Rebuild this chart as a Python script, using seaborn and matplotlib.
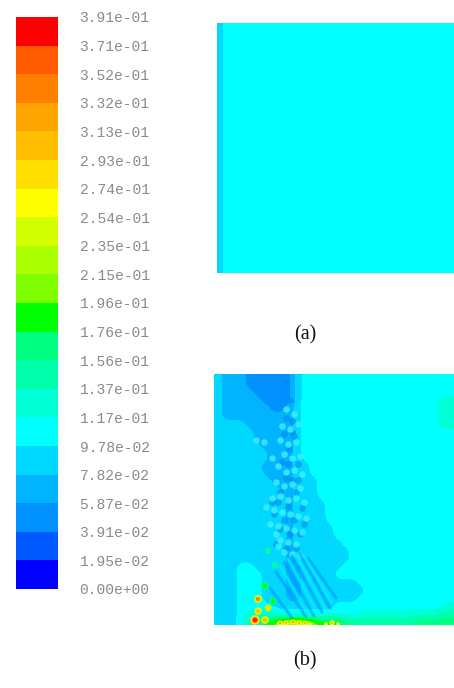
import numpy as np
import pandas as pd
import matplotlib
matplotlib.use("Agg")
import matplotlib.pyplot as plt
from matplotlib.colors import ListedColormap, BoundaryNorm
import seaborn as sns

W, H = 454, 688
tick_labels = ["3.91e-01","3.71e-01","3.52e-01","3.32e-01","3.13e-01","2.93e-01","2.74e-01",
               "2.54e-01","2.35e-01","2.15e-01","1.96e-01","1.76e-01","1.56e-01","1.37e-01",
               "1.17e-01","9.78e-02","7.82e-02","5.87e-02","3.91e-02","1.95e-02","0.00e+00"]
band_colors = ["#0000ff","#0058ff","#0090ff","#00b4ff","#00d8ff","#00ffff","#00ffd4","#00ffaa",
               "#00ff80","#00ff00","#7fff00","#aaff00","#d4ff00","#ffff00","#ffdf00","#ffbf00",
               "#ffa500","#ff8000","#ff5a00","#ff0000"]
# panel (a): band index per vertical strip
panel_a_strips = [4] + [5] * 39
# panel (b): band index (base 20 digit), 30 columns x 32 rows
panel_b_rows = [
 "433322222245555555555555555555",
 "433322222245555555555555555555",
 "433332222245555555555555555555",
 "433333222245555555555555555566",
 "433333322345555555555555555566",
 "433333333345555555555555555566",
 "444433333345555555555555555566",
 "444443333345555555555555555555",
 "444443333345555555555555555555",
 "444444333345555555555555555555",
 "444444433345555555555555555555",
 "444444333344555555555555555555",
 "444444333344555555555555555555",
 "444444433344455555555555555555",
 "444444443344455555555555555555",
 "444444444344455555555555555555",
 "444444444344445555555555555555",
 "444444444344445555555555555555",
 "444444444344445555555555555555",
 "444444444344444555555555555555",
 "444444444344444555555555555555",
 "444444444344444455555555555555",
 "444444444344444445555555555555",
 "444444444344444445555555555555",
 "444554444334444455555555555555",
 "444555444334444555555555555555",
 "444555444334444444555555555555",
 "444555444334444444455555555555",
 "444555444334444444555555555555",
 "444555544444444555555555555556",
 "444566665555555555666666666677",
 "44457799bbbba99987777777788888",
]
# suspended-particle spots in panel (b): x, y in picture pixels of the panel
light_x = [72,80,68,76,84,66,74,82,70,78,86,64,72,80,88,62,70,78,86,66,74,82,90,60,68,76,84,92,64,72,80,88,66,74,82,70,78,86,58,42,50,56,62,58,64,52]
light_y = [35,40,52,55,50,66,70,68,80,84,82,92,98,96,100,108,112,110,114,122,126,124,128,136,138,140,142,144,152,154,156,158,166,168,170,178,180,182,84,66,68,150,160,124,172,133]
dark_x = [73,76,72,78,70,80,75,68,84,72,78,66,82,74,88,70,80,64,76,86,72,82,78,90,74,84,60,66,62,58]
dark_y = [8,26,44,47,60,62,75,88,90,104,106,118,118,132,134,146,146,128,160,160,174,174,58,150,90,106,140,155,170,128]
stripe_x0 = [56,62,70,78,86,94]
stripe_y0 = [214,198,188,182,180,184]
stripe_x1 = [78,92,100,108,116,122]
stripe_y1 = [244,243,242,238,234,224]
gap_x0 = [66,74,82,90]
gap_y0 = [192,185,181,182]
gap_x1 = [96,104,112,118]
gap_y1 = [243,240,236,229]
hot_x = [41,51,44,44,54,59,51,54,61,66,72,79,85,91,96,112,118,124]
hot_y = [246,246,237,225,234,227,212,177,191,249,249,248,249,249,250,250,249,250]
hot_outer = ["#ffdf00","#d4ff00","#d4ff00","#d4ff00","#aaff00","#00ff80","#00ff80","#00ffaa","#00ffaa",
             "#ffff00","#ffff00","#ffff00","#ffff00","#ffff00","#aaff00","#aaff00","#ffff00","#aaff00"]
hot_inner = ["#ff2000","#ffbf00","#ffbf00","#ff8000","#ffdf00","#00ff00","#00ff00","#00ff80","#00ff80",
             "#ffa500","#ffbf00","#ffa500","#ffbf00","#ffbf00","#ffff00","#ffff00","#ffbf00","#ffff00"]
hot_size = [48,32,28,32,26,26,30,18,18,12,12,14,12,12,9,9,14,9]

STEP = 0.391 / 20
EDGES = [STEP * i for i in range(21)]
cmap = ListedColormap(band_colors)
norm = BoundaryNorm(EDGES, cmap.N)

def axpx(x0, y0, x1, y1):
    return fig.add_axes([x0 / W, 1 - y1 / H, (x1 - x0) / W, (y1 - y0) / H])

def soften(a, k=5, up=4, passes=2):
    a = np.kron(a, np.ones((up, up)))
    kern = np.ones(k) / k
    for _ in range(passes):
        a = np.apply_along_axis(lambda v: np.convolve(np.pad(v, k // 2, mode="edge"), kern, "valid"), 0, a)
        a = np.apply_along_axis(lambda v: np.convolve(np.pad(v, k // 2, mode="edge"), kern, "valid"), 1, a)
    return a

sns.set_theme(style="white")
fig = plt.figure(figsize=(W / 100, H / 100), dpi=100, facecolor="white")

# colour scale
ax_c = axpx(16, 17, 58, 589)
band_vals = (np.arange(20)[::-1] + 0.5) * STEP
sns.heatmap(pd.DataFrame({"v": band_vals}), ax=ax_c, cmap=cmap, norm=norm, cbar=False,
            xticklabels=False)
ax_c.set_ylabel("")
ax_c.yaxis.tick_right()
ax_c.set_yticks(np.arange(21))
ax_c.set_yticklabels(tick_labels, rotation=0, family="Liberation Mono", fontsize=10.5, color="#8a8a8a")
ax_c.tick_params(axis="y", length=0, pad=15.5)

# panel (a)
ax_a = axpx(217, 23, 454, 273)
sns.heatmap(pd.DataFrame([(np.array(panel_a_strips) + 0.5) * STEP]), ax=ax_a, cmap=cmap, norm=norm,
            cbar=False, xticklabels=False, yticklabels=False)

# panel (b)
ax_b = axpx(214, 374, 454, 625)
grid = soften(np.array([[(int(ch, 20) + 0.5) * STEP for ch in row] for row in panel_b_rows]))
xs = np.linspace(0, 240, grid.shape[1])
ys = np.linspace(0, 251, grid.shape[0])
ax_b.contourf(xs, ys, grid, levels=EDGES, colors=band_colors)
for x0, y0, x1, y1 in zip(stripe_x0, stripe_y0, stripe_x1, stripe_y1):
    sns.lineplot(x=[x0, x1], y=[y0, y1], ax=ax_b, color="#0090ff", lw=2.2, alpha=0.55)
for x0, y0, x1, y1 in zip(gap_x0, gap_y0, gap_x1, gap_y1):
    sns.lineplot(x=[x0, x1], y=[y0, y1], ax=ax_b, color="#00f0ff", lw=1.8, alpha=0.8)
sns.scatterplot(x=dark_x, y=dark_y, ax=ax_b, color="#0088f0", s=24, linewidth=0, alpha=0.6)
sns.scatterplot(x=light_x, y=light_y, ax=ax_b, color="#40f0ff", s=22, linewidth=0, alpha=0.8)
sns.scatterplot(x=hot_x, y=hot_y, ax=ax_b, c=hot_outer, s=hot_size, linewidth=0)
sns.scatterplot(x=hot_x, y=hot_y, ax=ax_b, c=hot_inner, s=[v * 0.3 for v in hot_size], linewidth=0)
ax_b.set_xlim(0, 240)
ax_b.set_ylim(251, 0)
ax_b.set_xticks([])
ax_b.set_yticks([])

for a in (ax_a, ax_b, ax_c):
    for s in a.spines.values():
        s.set_visible(False)

fig.text(305 / W, 1 - 335 / H, "(a)", family="Liberation Serif", fontsize=14.5, color="#111111", ha="center", va="center")
fig.text(305 / W, 1 - 661 / H, "(b)", family="Liberation Serif", fontsize=14.5, color="#111111", ha="center", va="center")
fig.savefig("out.png", dpi=100, facecolor="white")
